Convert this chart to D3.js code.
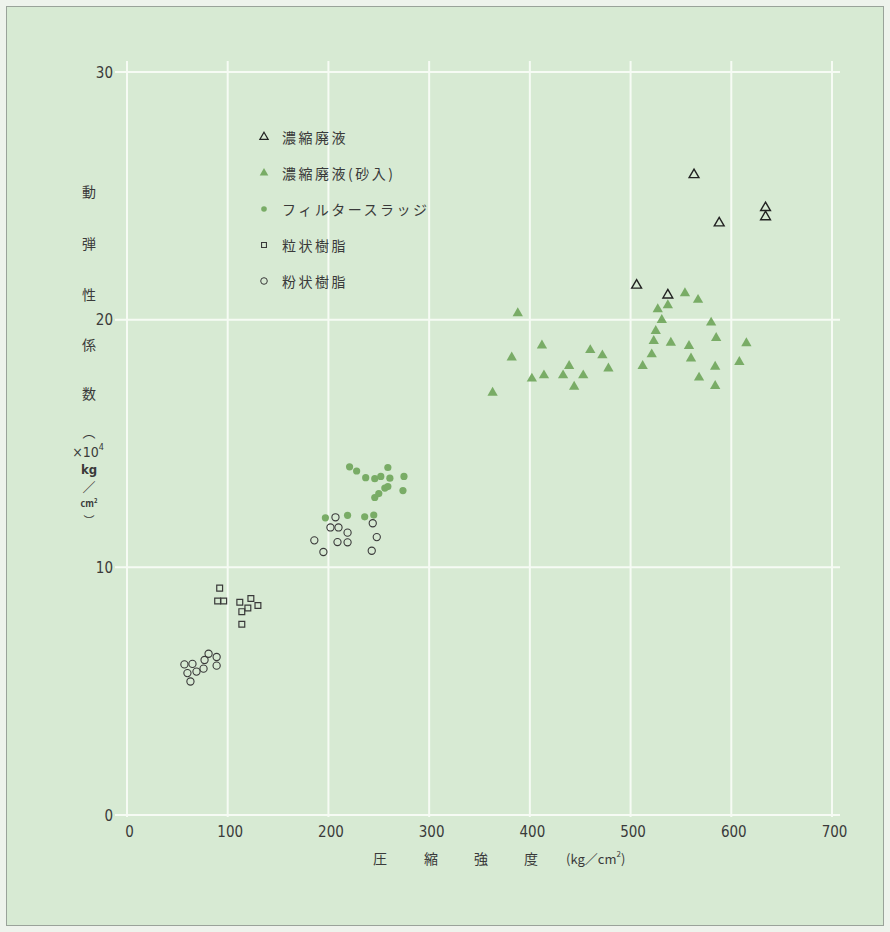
<!DOCTYPE html>
<html>
<head>
<meta charset="utf-8">
<script src="https://cdn.jsdelivr.net/npm/d3@7"></script>
<style>
  html, body { margin: 0; padding: 0; background: #eef3ec; }
  svg { display: block; }
</style>
</head>
<body>
<svg id="chart" width="890" height="932"></svg>
<script>
// 圧縮強度 (kg/cm²) vs 動弾性係数 (×10⁴ kg/cm²)

// 濃縮廃液
const concX = [563, 588, 634, 634, 506, 537];
const concY = [25.85, 23.9, 24.52, 24.15, 21.39, 20.99];

// 濃縮廃液(砂入)
const sandX = [363, 388, 382, 412, 402, 414, 433, 439, 444, 453, 460, 472, 478,
               512, 521, 523, 525, 527, 531, 537, 540, 554, 558, 560, 567, 568,
               580, 585, 584, 584, 608, 615];
const sandY = [17.05, 20.26, 18.47, 18.96, 17.62, 17.75, 17.75, 18.13, 17.29, 17.75, 18.77, 18.56, 18.03,
               18.13, 18.6, 19.14, 19.54, 20.42, 19.99, 20.58, 19.07, 21.07, 18.94, 18.43, 20.8, 17.66,
               19.88, 19.26, 18.1, 17.32, 18.29, 19.05];

// フィルタースラッジ
const sludgeX = [221, 228, 237, 246, 252, 259, 261, 275, 246, 250, 256, 259, 274, 197, 219, 236, 245];
const sludgeY = [14.06, 13.89, 13.62, 13.58, 13.67, 14.03, 13.6, 13.67, 12.82, 12.98, 13.2, 13.26, 13.1,
                 12.0, 12.1, 12.04, 12.11];

// 粒状樹脂
const beadX = [92, 90, 96, 112, 114, 120, 123, 130, 114];
const beadY = [9.16, 8.64, 8.64, 8.59, 8.21, 8.36, 8.74, 8.46, 7.7];

// 粉状樹脂
const powderX = [57, 65, 60, 69, 63, 76, 77, 81, 89, 89,
                 186, 195, 202, 207, 210, 209, 219, 219, 244, 248, 243];
const powderY = [6.08, 6.10, 5.73, 5.79, 5.39, 5.91, 6.26, 6.51, 6.38, 6.03,
                 11.09, 10.62, 11.61, 12.02, 11.61, 11.02, 11.4, 11.01, 11.78, 11.22, 10.67];

const xTicks = [0, 100, 200, 300, 400, 500, 600, 700];
const yTicks = [0, 10, 20, 30];

const legendLabels = ["濃縮廃液", "濃縮廃液(砂入)", "フィルタースラッジ", "粒状樹脂", "粉状樹脂"];

const BG = "#d7ead3";
const GRID = "#f6fbf4";
const GREEN = "#79ac66";
const INK = "#3a3a3a";
const NUM_FONT = "'DejaVu Sans Condensed', 'DejaVu Sans', sans-serif";
const JP_FONT = "'Noto Sans CJK JP', 'Noto Sans', sans-serif";

const svg = d3.select("#chart");

// panel
svg.append("rect").attr("x", 0).attr("y", 0).attr("width", 890).attr("height", 932).attr("fill", "#eef3ec");
svg.append("rect").attr("x", 6.5).attr("y", 6.5).attr("width", 877).attr("height", 919)
  .attr("fill", BG).attr("stroke", "#9aa39a").attr("stroke-width", 1);

const x = d3.scaleLinear().domain([0, 700]).range([127, 832]);
const y = d3.scaleLinear().domain([0, 30]).range([815, 72]);

// grid
const grid = svg.append("g");
grid.selectAll("line.v").data(xTicks).join("line")
  .attr("x1", d => x(d)).attr("x2", d => x(d))
  .attr("y1", y(30) - 11).attr("y2", y(0) + 2)
  .attr("stroke", GRID).attr("stroke-width", 2);
grid.selectAll("line.h").data(yTicks).join("line")
  .attr("x1", x(0) - 12).attr("x2", x(700) + 8)
  .attr("y1", d => y(d)).attr("y2", d => y(d))
  .attr("stroke", GRID).attr("stroke-width", 2);

// axis labels
const xAxis = d3.axisBottom(x).tickValues(xTicks).tickSize(0).tickPadding(0);
const gx = svg.append("g").attr("transform", `translate(2,${y(0) + 17})`).call(xAxis);
gx.select(".domain").remove();
gx.selectAll("text").attr("font-family", NUM_FONT).attr("font-stretch", "condensed")
  .attr("font-size", 15).attr("fill", INK).attr("dy", "0.35em");

const yAxis = d3.axisLeft(y).tickValues(yTicks).tickSize(0).tickPadding(0);
const gy = svg.append("g").attr("transform", `translate(${x(0) - 14},0)`).call(yAxis);
gy.select(".domain").remove();
gy.selectAll("text").attr("font-family", NUM_FONT).attr("font-stretch", "condensed")
  .attr("font-size", 15).attr("fill", INK).attr("dy", "0.35em");

// x title
const xt = svg.append("g").attr("font-family", JP_FONT).attr("font-size", 14).attr("fill", INK);
[["圧", 380], ["縮", 431], ["強", 481], ["度", 531]].forEach(([t, cx]) => {
  xt.append("text").attr("x", cx).attr("y", 858).attr("text-anchor", "middle")
    .attr("dominant-baseline", "central").text(t);
});
const unitX = xt.append("text").attr("x", 566).attr("y", 858).attr("dominant-baseline", "central")
  .attr("font-size", 13);
unitX.append("tspan").text("(kg／cm");
unitX.append("tspan").attr("font-size", 8).attr("dy", -5).text("2");
unitX.append("tspan").attr("dy", 5).text(")");

// y title (vertical)
const yt = svg.append("g").attr("font-family", JP_FONT).attr("fill", INK).attr("text-anchor", "middle")
  .attr("dominant-baseline", "central");
[["動", 191], ["弾", 243], ["性", 294], ["係", 344], ["数", 393]].forEach(([t, cy]) => {
  yt.append("text").attr("x", 89).attr("y", cy).attr("font-size", 14).text(t);
});
yt.append("text").attr("x", 89).attr("y", 431).attr("font-size", 13).text("︵");
const e4 = yt.append("text").attr("x", 88).attr("y", 452).attr("font-size", 14)
  .attr("font-family", NUM_FONT).attr("font-stretch", "condensed");
e4.append("tspan").text("×10");
e4.append("tspan").attr("font-size", 9).attr("dy", -5).text("4");
yt.append("text").attr("x", 89).attr("y", 469).attr("font-size", 13).attr("font-weight", "bold")
  .attr("font-family", NUM_FONT).attr("font-stretch", "condensed").text("kg");
yt.append("text").attr("x", 89).attr("y", 486).attr("font-size", 13).text("／");
const cm = yt.append("text").attr("x", 89).attr("y", 503).attr("font-size", 9).attr("font-weight", "bold");
cm.append("tspan").text("cm");
cm.append("tspan").attr("font-size", 6).attr("dy", -3).text("2");
yt.append("text").attr("x", 89).attr("y", 520).attr("font-size", 11).text("︶");

// markers
const triOpen = d3.symbol().type(d3.symbolTriangle).size(42);
const triFill = d3.symbol().type(d3.symbolTriangle).size(46);
const sq = d3.symbol().type(d3.symbolSquare).size(34);

const zip = (xs, ys) => xs.map((v, i) => [v, ys[i]]);

const marks = svg.append("g");
marks.selectAll("circle.powder").data(zip(powderX, powderY)).join("circle")
  .attr("cx", d => x(d[0])).attr("cy", d => y(d[1])).attr("r", 3.6)
  .attr("fill", "none").attr("stroke", INK).attr("stroke-width", 1.1);
marks.selectAll("path.bead").data(zip(beadX, beadY)).join("path")
  .attr("d", sq).attr("transform", d => `translate(${x(d[0])},${y(d[1])})`)
  .attr("fill", "none").attr("stroke", INK).attr("stroke-width", 1.2);
marks.selectAll("circle.sludge").data(zip(sludgeX, sludgeY)).join("circle")
  .attr("cx", d => x(d[0])).attr("cy", d => y(d[1])).attr("r", 3.6)
  .attr("fill", GREEN);
marks.selectAll("path.sand").data(zip(sandX, sandY)).join("path")
  .attr("d", triFill).attr("transform", d => `translate(${x(d[0])},${y(d[1])})`)
  .attr("fill", GREEN);
marks.selectAll("path.conc").data(zip(concX, concY)).join("path")
  .attr("d", triOpen).attr("transform", d => `translate(${x(d[0])},${y(d[1])})`)
  .attr("fill", "none").attr("stroke", "#222").attr("stroke-width", 1.4);

// legend
const lg = svg.append("g");
const legendY = d3.scalePoint().domain(legendLabels).range([137, 281]);
legendLabels.forEach((lab, i) => {
  const cy = legendY(lab);
  const g = lg.append("g").attr("transform", `translate(264,${cy})`);
  if (i === 0) g.append("path").attr("d", d3.symbol().type(d3.symbolTriangle).size(30))
    .attr("fill", "none").attr("stroke", "#222").attr("stroke-width", 1.2);
  if (i === 1) g.append("path").attr("d", d3.symbol().type(d3.symbolTriangle).size(32)).attr("fill", GREEN);
  if (i === 2) g.append("circle").attr("r", 2.8).attr("fill", GREEN);
  if (i === 3) g.append("path").attr("d", d3.symbol().type(d3.symbolSquare).size(24))
    .attr("fill", "none").attr("stroke", INK).attr("stroke-width", 1.1);
  if (i === 4) g.append("circle").attr("r", 3.3).attr("fill", "none").attr("stroke", INK).attr("stroke-width", 1);
  lg.append("text").attr("x", 282).attr("y", cy).attr("dominant-baseline", "central")
    .attr("font-family", JP_FONT).attr("font-size", 14).attr("letter-spacing", 2.5)
    .attr("fill", INK).text(lab);
});
</script>
</body>
</html>
